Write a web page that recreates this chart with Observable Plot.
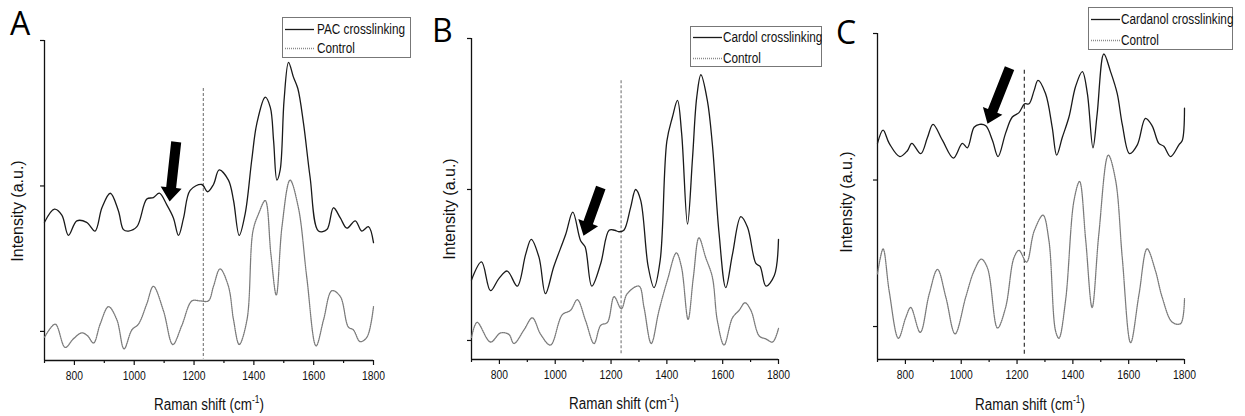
<!DOCTYPE html>
<html><head><meta charset="utf-8">
<script src="https://cdn.jsdelivr.net/npm/d3@7"></script>
<script src="https://cdn.jsdelivr.net/npm/@observablehq/plot@0.6"></script>
<style>
body{margin:0;background:#fff;}
#wrap{position:relative;width:1245px;height:416px;overflow:hidden;font-family:"Liberation Sans",Arial,sans-serif;color:#111;}
.panel{position:absolute;top:0;}
.letter{position:absolute;font-family:"Open Sans","DejaVu Sans",sans-serif;font-size:32px;line-height:1;color:#000;}
.ytitle{position:absolute;white-space:nowrap;font-size:16px;line-height:1;transform:translate(-50%,-50%) rotate(-90deg);}
.xtitle{position:absolute;white-space:nowrap;font-size:16px;line-height:1;transform:translate(-50%,-50%) scaleX(0.84);}
.xtitle sup{font-size:10px;vertical-align:7px;line-height:0;}
.legend{position:absolute;border:1px solid #777;background:#fff;font-size:14px;box-sizing:border-box;}
.legend .row{position:absolute;left:0;height:18px;line-height:18px;white-space:nowrap;width:100%;}
.legend svg{position:absolute;left:1px;top:0;}
.legend span{position:absolute;display:inline-block;transform-origin:0 50%;transform:scaleX(0.84);}
</style>
</head><body>
<div id="wrap"></div>
<script>
// ---------- data ----------
const xMajorTicks = [800, 1000, 1200, 1400, 1600, 1800];
const xMinorTicks = [700, 900, 1100, 1300, 1500, 1700];
const yTicks = [0, 100, 200];
const panelLetters = ["A", "B", "C"];
const seriesNames = ["PAC crosslinking", "Cardol crosslinking", "Cardanol crosslinking"];
const controlName = "Control";
const xTitle = "Raman shift (cm";
const yTitle = "Intensity (a.u.)";

// Panel A – PAC crosslinking
const pacShift = [700,733,758,780,808,841,869,892,920,947,964,981,1009,1042,1064,1084,1109,1131,1148,1165,1187,1226,1245,1265,1284,1315,1332,1351,1371,1393,1410,1438,1455,1466,1477,1488,1501,1516,1532,1547,1566,1588,1616,1644,1666,1689,1711,1739,1761,1783,1800];
const pacIntensity = [75,84,80,66,76,75,69,85,95,83,70,69,72,91,92,95,87,78,66,78,97,101,96,101,111,104,90,66,81,118,143,161,154,131,104,111,159,185,175,167,143,106,69,70,85,78,71,76,69,72,61];
const controlAShift = [700,736,769,797,825,844,864,886,914,942,966,992,1014,1042,1064,1098,1129,1159,1193,1220,1248,1265,1287,1315,1332,1351,1377,1397,1416,1438,1457,1475,1494,1521,1549,1577,1608,1633,1661,1689,1716,1733,1755,1778,1800];
const controlAIntensity = [-4,5,-11,-5,-1,-3,-8,5,17,8,-12,1,5,19,31,14,-9,4,21,21,21,31,43,31,8,-9,8,69,81,90,53,25,72,104,85,37,-10,8,28,24,3,1,-7,-4,17];
const dashA = 1231, dashTopA = 167, dashBottomA = -19;
const arrowTailA = [1142, 130], arrowTipA = [1120, 89];

// Panel B – Cardol crosslinking
const cardolShift = [700,736,768,798,828,864,894,914,942,965,995,1037,1063,1091,1107,1131,1163,1193,1213,1228,1246,1270,1288,1306,1333,1354,1376,1400,1420,1438,1453,1474,1492,1507,1522,1545,1563,1587,1611,1635,1665,1689,1719,1734,1755,1785,1800];
const cardolIntensity = [40,52,33,41,46,36,57,67,55,31,49,70,85,66,62,36,51,73,73,72,73,88,100,93,49,35,53,132,148,159,137,77,121,161,176,159,130,71,35,57,82,75,51,49,36,43,67];
const controlBShift = [700,720,768,804,834,852,888,918,948,983,1025,1055,1079,1109,1139,1163,1187,1211,1237,1258,1300,1318,1344,1372,1402,1434,1452,1476,1495,1515,1539,1563,1581,1605,1635,1659,1680,1701,1731,1755,1779,1800];
const controlBIntensity = [2,12,-1,5,4,-2,7,15,4,-3,17,20,27,13,-2,10,12,29,21,31,36,22,-2,20,40,58,49,14,42,68,55,42,13,-3,15,20,25,20,3,1,-1,8];
const dashB = 1236, dashTopB = 172, dashBottomB = -10;
const arrowTailB = [1165, 101], arrowTipB = [1103, 69];

// Panel C – Cardanol crosslinking
const cardanolShift = [700,720,742,780,807,823,855,879,899,933,972,1004,1022,1046,1066,1088,1112,1132,1159,1183,1207,1227,1243,1261,1275,1302,1326,1342,1362,1386,1410,1434,1452,1472,1487,1511,1535,1559,1577,1603,1631,1660,1684,1708,1726,1750,1780,1792,1800];
const cardanolIntensity = [125,134,125,116,120,125,118,129,138,127,115,125,122,136,138,137,127,116,132,143,146,152,152,161,168,159,136,117,129,143,164,174,159,122,145,186,174,159,138,118,124,142,137,125,123,116,124,127,149];
const controlCShift = [700,720,742,775,801,819,853,885,915,945,978,1016,1046,1072,1094,1130,1159,1189,1207,1234,1261,1293,1314,1338,1350,1374,1404,1424,1446,1469,1493,1527,1553,1577,1607,1637,1666,1696,1720,1756,1786,1800];
const controlCIntensity = [36,53,24,-8,6,13,-4,22,39,20,-5,20,38,46,40,-1,13,47,52,44,65,76,59,-3,-8,18,86,99,59,13,63,117,100,47,-11,22,53,38,20,3,2,19];
const dashC = 1226, dashTopC = 175, dashBottomC = -20;
const arrowTailC = [1175, 176], arrowTipC = [1096, 138];

// ---------- layout (pixels) ----------
const panels = [
  {left: 0,   width: 415, ml: 44, mr: 42, mt: 40, mb: 56, ymin: -20,
   shift: pacShift, val: pacIntensity, cShift: controlAShift, cVal: controlAIntensity,
   dash: dashA, dashTop: dashTopA, dashBottom: dashBottomA, dashStroke: "#777", dashArray: "3,2",
   tail: arrowTailA, tip: arrowTipA,
   letter: [10, 7], ytitle: [18, 211], xtitle: [209, 405],
   legend: {x: 282, y: 17, w: 129, h: 41, r1: 2, r2: 21, lineW: 30, textX: 34}},
  {left: 415, width: 415, ml: 56, mr: 52, mt: 38, mb: 57, ymin: -12.6,
   shift: cardolShift, val: cardolIntensity, cShift: controlBShift, cVal: controlBIntensity,
   dash: dashB, dashTop: dashTopB, dashBottom: dashBottomB, dashStroke: "#777", dashArray: "3,2",
   tail: arrowTailB, tip: arrowTipB,
   letter: [432, 14], ytitle: [450, 209], xtitle: [624, 404],
   legend: {x: 690, y: 26, w: 132, h: 41, r1: 1, r2: 22, lineW: 30, textX: 32}},
  {left: 830, width: 415, ml: 47, mr: 61, mt: 33, mb: 57, ymin: -22.5,
   shift: cardanolShift, val: cardanolIntensity, cShift: controlCShift, cVal: controlCIntensity,
   dash: dashC, dashTop: dashTopC, dashBottom: dashBottomC, dashStroke: "#222", dashArray: "4,3",
   tail: arrowTailC, tip: arrowTipC,
   letter: [836, 16], ytitle: [847, 202], xtitle: [1030, 405],
   legend: {x: 1088, y: 7, w: 145, h: 43, r1: 2, r2: 23, lineW: 30, textX: 32}}
];

function arrowMark(tail, tip) {
  return (index, scales) => {
    const x1 = scales.x(tail[0]), y1 = scales.y(tail[1]);
    const x2 = scales.x(tip[0]), y2 = scales.y(tip[1]);
    const dx = x2 - x1, dy = y2 - y1, L = Math.hypot(dx, dy);
    const ux = dx / L, uy = dy / L, px = -uy, py = ux;
    const sw = 5, hw = 10.5, hl = 14;
    const bx = x2 - ux * hl, by = y2 - uy * hl;
    const pts = [[x1 + px * sw, y1 + py * sw], [bx + px * sw, by + py * sw], [bx + px * hw, by + py * hw],
                 [x2, y2], [bx - px * hw, by - py * hw], [bx - px * sw, by - py * sw], [x1 - px * sw, y1 - py * sw]];
    return d3.create("svg:path")
      .attr("d", "M" + pts.map(p => p.map(v => v.toFixed(1)).join(",")).join("L") + "Z")
      .attr("fill", "#000").node();
  };
}

const wrap = document.getElementById("wrap");
panels.forEach((p, i) => {
  const main = p.shift.map((x, k) => ({x, y: p.val[k]}));
  const ctrl = p.cShift.map((x, k) => ({x, y: p.cVal[k]}));
  const chart = Plot.plot({
    width: p.width, height: 416,
    marginLeft: p.ml, marginRight: p.mr, marginTop: p.mt, marginBottom: p.mb,
    x: {domain: [700, 1800]},
    y: {domain: [p.ymin, 200]},
    style: {fontFamily: '"Liberation Sans",Arial,sans-serif', fontSize: "12px", color: "#111", background: "transparent", overflow: "visible"},
    marks: [
      Plot.axisY({ticks: yTicks, tickSize: 4, tickFormat: () => "", label: null, strokeWidth: 1.2}),
      Plot.axisX({ticks: xMajorTicks, tickSize: 5, tickPadding: 6, tickFormat: d3.format("d"), label: null, strokeWidth: 1.2}),
      Plot.axisX({ticks: xMinorTicks, tickSize: 3, tickFormat: () => "", label: null, strokeWidth: 1.2}),
      Plot.ruleX([700], {stroke: "#111", strokeWidth: 1.3}),
      Plot.ruleY([p.ymin], {stroke: "#111", strokeWidth: 1.3}),
      Plot.ruleX([p.dash], {y1: p.dashTop, y2: p.dashBottom, stroke: p.dashStroke, strokeWidth: 1.1, strokeDasharray: p.dashArray}),
      Plot.line(ctrl, {x: "x", y: "y", curve: "catmull-rom", stroke: "#7a7a7a", strokeWidth: 1.3, strokeDasharray: "1,1"}),
      Plot.line(main, {x: "x", y: "y", curve: "catmull-rom", stroke: "#1a1a1a", strokeWidth: 1.3}),
      arrowMark(p.tail, p.tip)
    ]
  });
  const holder = document.createElement("div");
  holder.className = "panel";
  holder.style.left = p.left + "px";
  holder.appendChild(chart);
  wrap.appendChild(holder);
  // condense the tick labels horizontally (the reference uses a narrow face)
  chart.querySelectorAll('g[aria-label="x-axis tick label"] text').forEach(t => {
    const w = t.getComputedTextLength();
    if (w > 0) { t.setAttribute("textLength", (w * 0.86).toFixed(1)); t.setAttribute("lengthAdjust", "spacingAndGlyphs"); }
  });

  const letter = document.createElement("div");
  letter.className = "letter";
  letter.textContent = panelLetters[i];
  letter.style.left = p.letter[0] + "px"; letter.style.top = p.letter[1] + "px";
  wrap.appendChild(letter);

  const yt = document.createElement("div");
  yt.className = "ytitle"; yt.textContent = yTitle;
  yt.style.left = p.ytitle[0] + "px"; yt.style.top = p.ytitle[1] + "px";
  wrap.appendChild(yt);

  const xt = document.createElement("div");
  xt.className = "xtitle"; xt.innerHTML = xTitle + "<sup>-1</sup>)";
  xt.style.left = p.xtitle[0] + "px"; xt.style.top = p.xtitle[1] + "px";
  wrap.appendChild(xt);

  const lg = p.legend;
  const box = document.createElement("div");
  box.className = "legend";
  box.style.left = lg.x + "px"; box.style.top = lg.y + "px";
  box.style.width = lg.w + "px"; box.style.height = lg.h + "px";
  [[seriesNames[i], "#1a1a1a", null, lg.r1], [controlName, "#8a8a8a", "1,1", lg.r2]].forEach(([name, col, da, top]) => {
    const row = document.createElement("div");
    row.className = "row";
    row.style.top = top + "px";
    row.innerHTML = `<svg width="${lg.lineW + 2}" height="18"><line x1="1" x2="${lg.lineW}" y1="9.5" y2="9.5" stroke="${col}" stroke-width="1.3" ${da ? `stroke-dasharray="${da}"` : ""}/></svg><span style="left:${lg.textX}px">${name}</span>`;
    box.appendChild(row);
  });
  wrap.appendChild(box);
});
</script>
</body></html>
